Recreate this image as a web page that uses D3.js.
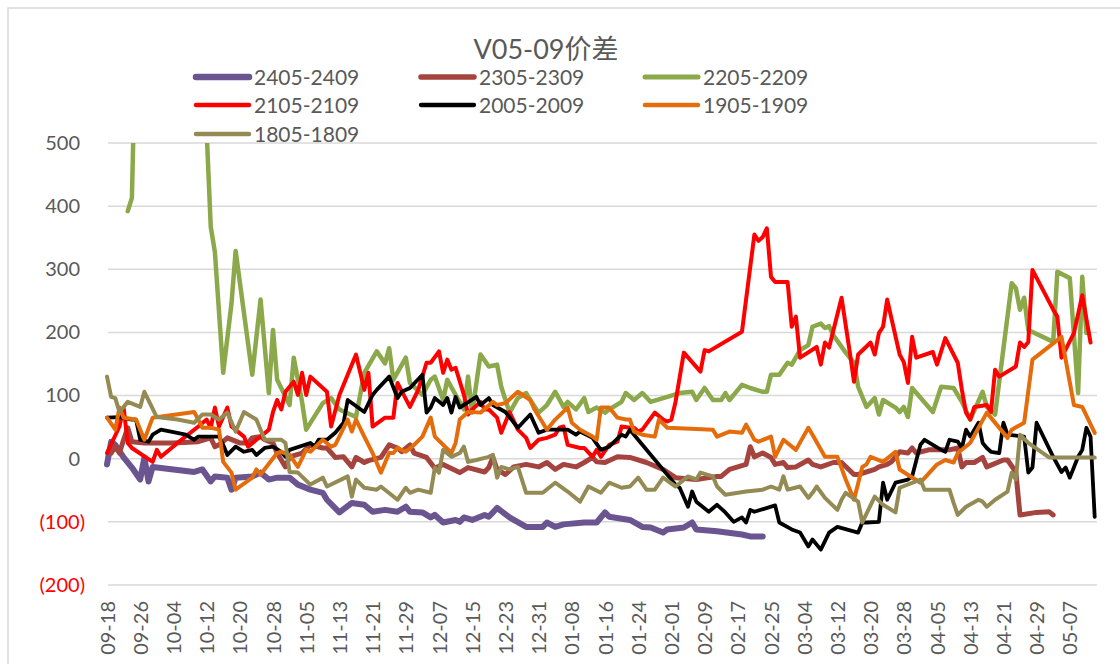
<!DOCTYPE html>
<html>
<head>
<meta charset="utf-8">
<script src="https://cdn.jsdelivr.net/npm/d3@7"></script>
<style>
  body { margin: 0; background: #fff; }
  text { font-family: Lato, "Noto Sans CJK SC", sans-serif; }
</style>
</head>
<body>
<div id="chart"></div>
<script>
// day offsets are counted from 09-18 (first date on the axis)
var seriesNames = ["2405-2409", "2305-2309", "2205-2209", "2105-2109", "2005-2009", "1905-1909", "1805-1809"];

var s2405 = [[0,-9],[1,27],[2,22],[4,2],[6,-14],[8,-33],[9,2],[10,-36],[11,-13],[21,-21],[23,-17],[25,-36],[26,-28],[29,-30],[30,-49],[31,-30],[35,-28],[37,-22],[39,-33],[41,-30],[44,-30],[46,-41],[49,-49],[52,-54],[53,-65],[56,-85],[59,-70],[62,-73],[64,-84],[67,-81],[70,-84],[72,-76],[73,-84],[76,-85],[78,-93],[79,-89],[81,-101],[84,-97],[85,-100],[86,-93],[88,-97],[91,-89],[92,-92],[94,-78],[97,-93],[101,-108],[105,-108],[106,-101],[108,-108],[110,-104],[115,-101],[118,-101],[120,-85],[121,-92],[126,-97],[129,-108],[131,-109],[134,-117],[135,-112],[139,-109],[141,-101],[142,-112],[147,-115],[153,-120],[155,-123],[158,-123]];

var s2305 = [[1,9],[2,19],[3,9],[4,30],[5,49],[6,27],[9,25],[16,25],[22,27],[25,33],[26,19],[27,22],[29,33],[32,25],[34,25],[35,33],[37,35],[38,30],[40,25],[41,9],[43,-13],[44,3],[47,9],[49,22],[52,17],[53,17],[55,2],[57,3],[59,-13],[60,2],[62,-6],[63,-3],[66,2],[68,22],[70,17],[71,11],[73,22],[74,9],[77,2],[79,-15],[81,-9],[85,-22],[87,-14],[91,-21],[92,-14],[93,2],[94,-17],[96,-25],[98,-13],[101,-9],[104,-13],[106,-6],[108,-17],[110,-9],[113,-13],[115,-6],[117,2],[118,-5],[120,-6],[123,3],[126,2],[130,-6],[134,-17],[137,-30],[142,-33],[147,-28],[148,-28],[150,-17],[154,-9],[155,19],[156,3],[158,9],[160,2],[161,-9],[163,-6],[164,-14],[166,-13],[169,-2],[170,-9],[172,-13],[175,-6],[177,-6],[180,-25],[181,-25],[185,-17],[186,-13],[188,-9],[189,-5],[191,11],[193,9],[194,17],[195,9],[198,14],[200,14],[203,14],[205,17],[206,-13],[207,-6],[209,-6],[211,2],[212,-13],[216,-2],[217,-2],[219,-21],[220,-89],[224,-85],[227,-84],[228,-89]];

var s2205 = [[5,392],[6,413],[7,700],[10,690],[14,640],[18,720],[22,650],[24,520],[25,367],[26,327],[28,136],[30,246],[31,329],[35,133],[37,252],[39,104],[40,204],[41,125],[44,85],[45,160],[47,90],[48,46],[52,88],[54,96],[56,78],[60,66],[62,136],[65,170],[67,151],[68,175],[69,125],[72,160],[73,120],[76,101],[78,125],[79,130],[81,93],[82,125],[84,101],[86,78],[87,130],[88,73],[90,165],[92,146],[94,149],[95,114],[97,73],[99,96],[101,104],[102,93],[104,73],[106,85],[108,106],[110,82],[111,90],[113,78],[115,96],[116,74],[118,81],[120,73],[121,78],[124,90],[125,104],[127,93],[129,104],[131,90],[134,96],[138,104],[141,106],[142,93],[144,112],[146,93],[148,93],[149,104],[150,93],[153,117],[155,112],[158,106],[159,106],[160,133],[162,133],[164,152],[165,149],[167,172],[169,180],[170,209],[172,214],[173,207],[174,210],[175,196],[178,168],[180,152],[181,114],[183,82],[185,96],[186,70],[187,93],[190,81],[191,74],[192,82],[193,66],[194,112],[199,74],[201,114],[204,112],[206,90],[208,62],[211,106],[212,82],[214,70],[218,278],[219,270],[220,236],[221,255],[222,204],[228,185],[229,296],[232,286],[234,104],[235,288],[236,199]];

var s2105 = [[0,9],[3,51],[4,81],[5,25],[6,17],[11,-5],[12,14],[13,3],[17,25],[22,51],[24,62],[25,49],[26,81],[27,51],[29,81],[30,51],[33,35],[34,19],[36,30],[37,35],[39,46],[40,74],[41,93],[42,78],[43,106],[45,122],[46,101],[47,136],[48,101],[49,130],[53,106],[54,51],[56,101],[60,165],[62,109],[63,136],[64,51],[67,65],[69,65],[70,120],[73,82],[75,109],[77,152],[78,152],[80,170],[81,136],[82,157],[83,141],[84,144],[86,101],[87,70],[88,78],[90,90],[91,78],[92,78],[94,65],[95,41],[97,74],[99,46],[101,33],[102,17],[104,30],[106,33],[108,38],[109,49],[110,51],[111,22],[114,17],[115,17],[117,3],[118,14],[119,3],[121,22],[123,27],[124,51],[126,49],[127,49],[128,43],[129,46],[132,73],[134,62],[135,59],[136,62],[137,90],[139,168],[143,138],[144,172],[145,170],[153,201],[156,355],[157,345],[158,351],[159,365],[160,288],[161,280],[164,280],[165,209],[166,225],[167,160],[171,177],[172,149],[173,184],[174,176],[177,255],[179,168],[180,122],[181,165],[184,184],[185,165],[186,199],[187,209],[188,252],[191,165],[192,153],[193,120],[194,193],[195,160],[199,169],[200,149],[202,191],[205,152],[206,109],[207,73],[208,62],[209,82],[212,85],[213,74],[214,141],[215,130],[219,146],[220,184],[221,177],[222,185],[223,299],[228,236],[229,225],[230,160],[233,199],[235,259],[237,184]];

var s2005 = [[0,65],[3,66],[6,62],[7,62],[8,30],[10,27],[11,38],[13,46],[19,38],[21,30],[22,35],[27,35],[28,22],[29,6],[31,19],[33,11],[35,14],[36,6],[38,17],[40,19],[42,11],[43,3],[44,14],[49,25],[50,19],[51,30],[53,30],[55,41],[57,57],[58,93],[62,74],[64,101],[65,109],[68,130],[70,96],[71,106],[73,112],[76,133],[77,73],[78,81],[79,96],[81,85],[82,96],[83,73],[84,98],[85,81],[89,98],[90,85],[92,96],[93,85],[96,74],[99,49],[102,70],[104,41],[106,46],[111,46],[113,38],[114,43],[117,33],[119,14],[121,19],[124,38],[125,35],[126,46],[129,22],[137,-41],[138,-46],[140,-76],[141,-52],[142,-68],[145,-84],[147,-73],[149,-85],[151,-100],[153,-93],[154,-101],[155,-81],[156,-84],[161,-74],[162,-101],[165,-112],[167,-117],[169,-139],[170,-128],[172,-144],[174,-117],[176,-108],[181,-117],[182,-101],[183,-101],[186,-100],[187,-38],[188,-65],[190,-38],[193,-33],[194,-28],[196,22],[197,30],[201,14],[202,11],[203,30],[205,27],[206,17],[207,46],[208,35],[210,57],[211,25],[212,17],[213,11],[215,9],[216,57],[217,38],[221,35],[222,-22],[223,-14],[224,57],[228,3],[230,-21],[231,-14],[232,-30],[234,3],[235,14],[236,49],[237,35],[238,-92]];

var s1905 = [[0,65],[2,46],[3,81],[4,65],[7,62],[9,30],[11,65],[21,74],[22,62],[23,49],[25,49],[27,46],[28,-5],[30,-22],[31,-49],[35,-30],[36,-17],[37,-25],[41,9],[42,11],[44,6],[46,-13],[48,14],[49,11],[52,30],[54,19],[55,22],[58,62],[59,43],[60,62],[62,35],[64,9],[66,-22],[68,9],[69,9],[70,17],[72,11],[74,22],[76,35],[78,65],[79,35],[83,9],[84,25],[85,62],[87,74],[88,74],[90,73],[93,90],[94,85],[96,88],[99,106],[102,93],[103,78],[105,57],[106,46],[108,62],[111,81],[112,57],[114,46],[117,35],[118,30],[119,81],[121,81],[123,65],[125,62],[126,62],[127,43],[129,38],[132,35],[133,62],[135,49],[142,47],[146,46],[147,35],[150,43],[153,41],[154,54],[156,30],[157,27],[160,35],[161,3],[163,30],[166,14],[169,49],[170,38],[173,3],[176,3],[178,-33],[180,-65],[182,-13],[183,-9],[184,3],[187,-5],[190,11],[191,-17],[196,-38],[200,-9],[202,-2],[204,-6],[205,9],[208,25],[212,73],[217,33],[218,46],[221,57],[223,157],[230,193],[233,85],[235,82],[238,41]];

var s1805 = [[0,130],[1,98],[2,96],[3,74],[5,90],[8,82],[9,106],[12,66],[17,62],[21,57],[23,70],[25,70],[27,62],[29,73],[31,43],[33,74],[36,62],[38,30],[42,30],[43,25],[44,-21],[46,-22],[49,-41],[52,-30],[53,-44],[58,-28],[59,-60],[60,-33],[62,-46],[65,-49],[66,-44],[70,-65],[72,-46],[73,-54],[75,-49],[78,-54],[79,-14],[80,-22],[81,14],[83,3],[85,9],[86,19],[87,-5],[89,-2],[92,3],[93,6],[94,-30],[95,-13],[97,-17],[99,-13],[101,-54],[105,-54],[108,-38],[111,-52],[114,-68],[116,-44],[119,-54],[121,-38],[124,-46],[126,-44],[128,-30],[130,-49],[132,-49],[134,-30],[137,-44],[140,-28],[142,-33],[143,-22],[146,-28],[147,-44],[149,-57],[154,-52],[158,-49],[160,-44],[162,-49],[163,-28],[164,-49],[167,-44],[169,-62],[170,-54],[171,-44],[173,-62],[176,-81],[177,-65],[178,-54],[181,-68],[182,-101],[185,-60],[187,-73],[190,-85],[191,-46],[196,-33],[197,-49],[203,-49],[204,-70],[205,-89],[207,-76],[210,-65],[211,-68],[212,-76],[214,-65],[217,-52],[218,-22],[219,-33],[220,38],[222,25],[227,2],[238,2]];

var xTickLabels = ["09-18","09-26","10-04","10-12","10-20","10-28","11-05","11-13","11-21","11-29","12-07","12-15","12-23","12-31","01-08","01-16","01-24","02-01","02-09","02-17","02-25","03-04","03-12","03-20","03-28","04-05","04-13","04-21","04-29","05-07"];
var yTicks = [500, 400, 300, 200, 100, 0, -100, -200];

var colors = ["#6B5591", "#A5443F", "#8BA84B", "#FF0000", "#000000", "#E46C0A", "#948A54"];
var widths = [6, 5, 4.5, 4, 3.8, 4, 4];
var allSeries = [s2405, s2305, s2205, s2105, s2005, s1905, s1805];

var width = 1120, height = 664;
var plot = {left: 108, right: 1097, top: 143, bottom: 585};

var svg = d3.select("#chart")
  .append("svg")
    .attr("width", width)
    .attr("height", height);

// chart area border
svg.append("rect")
  .attr("x", 8).attr("y", 8)
  .attr("width", 1140).attr("height", 700)
  .attr("fill", "#fff")
  .attr("stroke", "#D9D9D9")
  .attr("stroke-width", 1.5);

var startDate = new Date(2023, 8, 18);
function toDate(d) { return d3.timeDay.offset(startDate, d); }
function parseTick(s) {
  var m = +s.slice(0, 2), d = +s.slice(3);
  return new Date(m >= 9 ? 2023 : 2024, m - 1, d);
}

var x = d3.scaleTime()
  .domain([startDate, toDate(239)])
  .range([107, 107 + 239 * 4.15]);

var y = d3.scaleLinear()
  .domain([-200, 500])
  .range([plot.bottom, plot.top]);

// gridlines
svg.append("g")
  .selectAll("line")
  .data(yTicks)
  .enter()
  .append("line")
    .attr("x1", plot.left).attr("x2", plot.right)
    .attr("y1", function(d) { return y(d); })
    .attr("y2", function(d) { return y(d); })
    .attr("stroke", "#D9D9D9")
    .attr("stroke-width", 1.5);

// y axis labels
var yAxis = svg.append("g")
  .attr("transform", "translate(85,0)")
  .call(d3.axisLeft(y).tickValues(yTicks).tickSize(0).tickPadding(0)
    .tickFormat(function(d) { return d < 0 ? "(" + Math.abs(d) + ")" : d; }));
yAxis.select(".domain").remove();
yAxis.selectAll("text")
  .attr("font-size", 20)
  .attr("font-family", "Lato, sans-serif")
  .attr("fill", function(d) { return d < 0 ? "#FF0000" : "#595959"; })
  .attr("dx", function(d) { return d < 0 ? 0 : -5; });

// x axis labels
var xAxis = svg.append("g")
  .attr("transform", "translate(0," + plot.bottom + ")")
  .call(d3.axisBottom(x).tickValues(xTickLabels.map(parseTick)).tickSize(0)
    .tickFormat(d3.timeFormat("%m-%d")));
xAxis.select(".domain").remove();
xAxis.selectAll("text")
  .attr("font-size", 20)
  .attr("font-family", "Lato, sans-serif")
  .attr("fill", "#595959")
  .attr("transform", "rotate(-90)")
  .attr("x", -16)
  .attr("y", 0)
  .attr("dy", "0.35em")
  .style("text-anchor", "end");

// clip the lines to the plot area
svg.append("clipPath")
  .attr("id", "plotClip")
  .append("rect")
    .attr("x", plot.left - 4).attr("y", plot.top)
    .attr("width", plot.right - plot.left + 8)
    .attr("height", plot.bottom - plot.top + 20);

var line = d3.line()
  .x(function(d) { return x(toDate(d[0])); })
  .y(function(d) { return y(d[1]); });

svg.append("g")
  .attr("clip-path", "url(#plotClip)")
  .selectAll("path")
  .data(allSeries)
  .enter()
  .append("path")
    .attr("d", line)
    .attr("fill", "none")
    .attr("stroke", function(d, i) { return colors[i]; })
    .attr("stroke-width", function(d, i) { return widths[i]; })
    .attr("stroke-linejoin", "round")
    .attr("stroke-linecap", "round");

// title
svg.append("text")
  .attr("x", 546)
  .attr("y", 59)
  .attr("text-anchor", "middle")
  .attr("font-size", 27)
  .attr("fill", "#595959")
  .text("V05-09价差");

// legend
var legendCols = [196, 421, 645];
var legendRows = [77, 105, 134];
var legend = svg.append("g")
  .selectAll("g")
  .data(seriesNames)
  .enter()
  .append("g")
    .attr("transform", function(d, i) {
      return "translate(" + legendCols[i % 3] + "," + legendRows[Math.floor(i / 3)] + ")";
    });

legend.append("line")
  .attr("x1", 0).attr("x2", 53)
  .attr("y1", 0).attr("y2", 0)
  .attr("stroke", function(d, i) { return colors[i]; })
  .attr("stroke-width", function(d, i) { return widths[i] + 0.5; })
  .attr("stroke-linecap", "round");

legend.append("text")
  .attr("x", 58)
  .attr("y", 0)
  .attr("dy", "0.36em")
  .attr("font-size", 21)
  .attr("fill", "#595959")
  .text(function(d) { return d; });
</script>
</body>
</html>
